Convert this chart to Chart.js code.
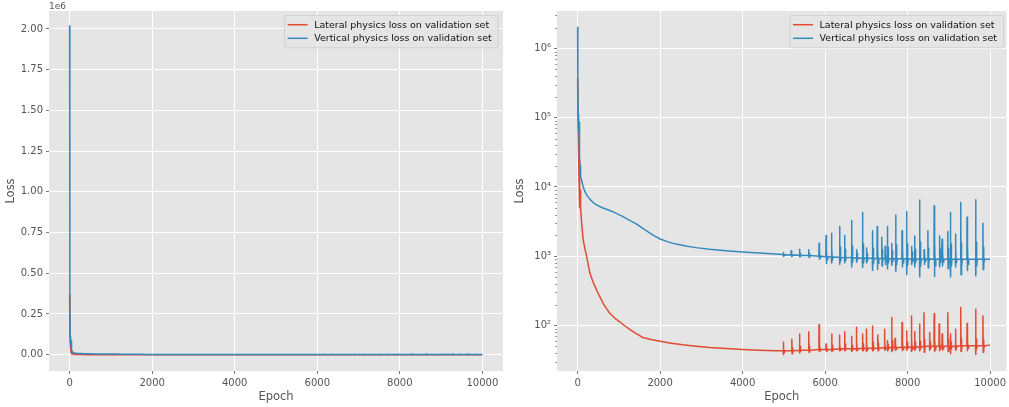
<!DOCTYPE html>
<html>
<head>
<meta charset="utf-8">
<script src="https://cdn.jsdelivr.net/npm/chart.js@4/dist/chart.umd.min.js"></script>
<style>
  html, body { margin: 0; padding: 0; background: #fff; overflow: hidden; }
  #wrap { position: relative; width: 1009px; height: 407px; }
  canvas { position: absolute; top: 0; }
  #linChart { left: 0; }
  #logChart { left: 509px; }
</style>
</head>
<body>
<div id="wrap">
  <canvas id="linChart" width="509" height="407"></canvas>
  <canvas id="logChart" width="500" height="407"></canvas>
</div>
<script>
const seriesNames = ['Lateral physics loss on validation set', 'Vertical physics loss on validation set'];

// ---- lateral loss ----
// decay part, [epoch, loss]
const lateralDecay = [
  [0, 370000], [3, 200000], [8, 120000], [15, 60000], [25, 25000], [35, 12000], [45, 9000],
  [50, 25000], [55, 5000], [62, 9000], [72, 4900], [100, 2900], [135, 1720], [175, 1300],
  [217, 1000], [297, 570], [370, 430], [458, 326], [540, 260], [618, 209], [700, 175],
  [779, 150], [900, 128], [1020, 113], [1140, 99], [1262, 88], [1420, 76], [1583, 67],
  [1800, 62], [2002, 59], [2270, 55.5], [2548, 52.5], [2870, 50], [3192, 48], [3600, 46.5],
  [4000, 45], [4400, 44], [4800, 43], [4975, 43]
];
// spikes, [epoch, base, peak, dip, rebound, dip2]
const lateralSpikes = [
  [4985, 43, 57, 38, 47, 41], [5193, 43, 63, 39, 48, 41], [5380, 44, 75, 40, 50, 42],
  [5604, 44, 81, 41, 51, 42], [5853, 45, 102, 42, 53, 43], [6022, 45, 54, 42, 48, 43],
  [6160, 45, 75, 42, 52, 43], [6345, 46, 73, 43, 53, 44], [6473, 46, 81, 43, 54, 44],
  [6642, 46, 69, 42, 52, 44], [6755, 46, 94, 43, 56, 44], [6907, 47, 75, 43, 55, 44],
  [6996, 47, 88, 42, 56, 44], [7148, 47, 98, 43, 57, 44], [7277, 47, 73, 43, 55, 45],
  [7437, 48, 88, 44, 57, 45], [7510, 48, 60, 43, 53, 45], [7614, 48, 130, 42, 60, 44],
  [7695, 48, 65, 44, 55, 45], [7865, 48, 110, 43, 58, 45], [7977, 49, 84, 44, 57, 46],
  [8089, 49, 137, 42, 62, 45], [8170, 49, 81, 44, 57, 46], [8291, 49, 105, 43, 59, 46],
  [8396, 50, 153, 41, 63, 45], [8532, 50, 79, 44, 58, 46], [8644, 50, 147, 42, 62, 45],
  [8765, 50, 105, 43, 60, 46], [8837, 50, 75, 44, 57, 46], [8975, 50, 153, 42, 63, 45],
  [9038, 50, 75, 39, 58, 46], [9158, 50, 88, 44, 58, 46], [9288, 51, 181, 42, 65, 46],
  [9441, 51, 107, 43, 60, 47], [9650, 51, 171, 38, 64, 46], [9826, 51, 137, 41, 62, 46]
];
const lateralLast = [9999, 52];

// ---- vertical loss ----
const verticalDecay = [
  [0, 2020000], [3, 900000], [8, 300000], [15, 110000], [25, 60000], [35, 85000], [40, 40000],
  [45, 65000], [52, 25000], [60, 17000], [68, 20000], [75, 14000], [96, 12600], [130, 10200],
  [176, 8600], [230, 7500], [297, 6670], [370, 6000], [458, 5500], [600, 5000], [779, 4560],
  [940, 4150], [1100, 3730], [1260, 3300], [1423, 2930], [1580, 2520], [1744, 2170],
  [1870, 1950], [2002, 1770], [2190, 1610], [2388, 1495], [2620, 1400], [2871, 1330],
  [3192, 1260], [3600, 1200], [4000, 1150], [4500, 1100], [4975, 1060]
];
const verticalSpikes = [
  [4985, 1050, 1130, 1000, 1080, 1020], [5177, 1040, 1200, 990, 1090, 1010],
  [5380, 1030, 1260, 980, 1100, 990], [5604, 1020, 1240, 960, 1090, 980],
  [5853, 1000, 1540, 900, 1150, 950], [6022, 980, 1990, 780, 1250, 880],
  [6152, 975, 2150, 800, 1300, 870], [6352, 965, 2680, 760, 1350, 850],
  [6473, 960, 1990, 800, 1250, 860], [6642, 955, 3270, 700, 1400, 820],
  [6762, 950, 1240, 820, 1100, 880], [6907, 945, 4260, 690, 1500, 800],
  [7003, 940, 1310, 800, 1100, 860], [7148, 935, 2340, 620, 1300, 780],
  [7262, 930, 2680, 640, 1350, 790], [7373, 930, 1880, 720, 1250, 820],
  [7455, 925, 1380, 760, 1150, 840], [7510, 925, 2680, 660, 1350, 800],
  [7614, 920, 1520, 740, 1200, 830], [7711, 920, 3950, 600, 1450, 760],
  [7865, 915, 2340, 700, 1300, 800], [7977, 915, 4410, 540, 1500, 740],
  [8097, 912, 1380, 760, 1150, 840], [8170, 910, 1960, 700, 1250, 810],
  [8291, 910, 6500, 500, 1600, 720], [8400, 910, 1240, 760, 1100, 840],
  [8492, 908, 2340, 680, 1300, 800], [8644, 905, 5330, 510, 1550, 730],
  [8773, 905, 1960, 700, 1250, 810], [8837, 905, 1760, 720, 1200, 820],
  [8975, 903, 2270, 660, 1300, 790], [9038, 903, 4260, 500, 1500, 730],
  [9158, 902, 2100, 700, 1250, 800], [9288, 900, 5960, 540, 1550, 730],
  [9441, 900, 3660, 620, 1400, 760], [9650, 900, 6520, 520, 1600, 720],
  [9826, 900, 3000, 640, 1350, 780]
];
const verticalLast = [9999, 900];

// ---- ticks ----
const epochTicks = [0, 2000, 4000, 6000, 8000, 10000];
const linLossTicks = [0, 250000, 500000, 750000, 1000000, 1250000, 1500000, 1750000, 2000000];
const logMajorTicks = [1e2, 1e3, 1e4, 1e5, 1e6];
const logMajorLabels = ['10²', '10³', '10⁴', '10⁵', '10⁶'];
const logMinorTicks = [
  30, 40, 50, 60, 70, 80, 90,
  200, 300, 400, 500, 600, 700, 800, 900,
  2000, 3000, 4000, 5000, 6000, 7000, 8000, 9000,
  20000, 30000, 40000, 50000, 60000, 70000, 80000, 90000,
  200000, 300000, 400000, 500000, 600000, 700000, 800000, 900000,
  2000000, 3000000
];

const RED = '#E24A33';
const BLUE = '#348ABD';
const TXT = '#555555';
const FONT = 'DejaVu Sans';

// epoch offsets of pre, peak, dip, rebound, dip2, post within one spike
const spikeSteps = [-4, 0, 7, 15, 24, 40];

function buildSeries(decay, spikes, last) {
  const pts = decay.map(([x, y]) => ({ x, y }));
  spikes.forEach(([e, base, peak, dip, reb, dip2]) => {
    [base, peak, dip, reb, dip2, base].forEach((y, i) => pts.push({ x: e + spikeSteps[i], y }));
  });
  pts.push({ x: last[0], y: last[1] });
  return pts;
}
const lateralData = buildSeries(lateralDecay, lateralSpikes, lateralLast);
const verticalData = buildSeries(verticalDecay, verticalSpikes, verticalLast);

// grey panel behind the plot
const panelBg = {
  id: 'panelBg',
  beforeDraw(chart) {
    const { ctx, chartArea: a } = chart;
    ctx.save();
    ctx.fillStyle = '#E5E5E5';
    ctx.fillRect(a.left, a.top, a.right - a.left, a.bottom - a.top);
    ctx.restore();
  }
};

// legend box in the upper right
const boxLegend = {
  id: 'boxLegend',
  afterDatasetsDraw(chart, args, opts) {
    const { ctx, chartArea: a } = chart;
    ctx.save();
    ctx.font = '9.5px "' + FONT + '"';
    const tw = Math.max(...seriesNames.map(s => ctx.measureText(s).width));
    const w = 30 + tw + 6, h = 32.3;
    const x0 = a.right - opts.gap - w, y0 = a.top + 4;
    ctx.beginPath();
    ctx.roundRect(x0 + 0.5, y0 + 0.5, w, h, 2);
    ctx.fillStyle = 'rgba(229,229,229,0.8)';
    ctx.fill();
    ctx.strokeStyle = 'rgba(204,204,204,0.8)';
    ctx.lineWidth = 1;
    ctx.stroke();
    ctx.textBaseline = 'middle';
    ctx.fillStyle = '#111';
    [RED, BLUE].forEach((c, i) => {
      const cy = y0 + 9.7 + i * 13.6;
      ctx.strokeStyle = c;
      ctx.lineWidth = 1.5;
      ctx.beginPath();
      ctx.moveTo(x0 + 3.5, cy);
      ctx.lineTo(x0 + 23.5, cy);
      ctx.stroke();
      ctx.fillText(seriesNames[i], x0 + 30, cy + 0.5);
    });
    ctx.restore();
  }
};

// "1e6" offset label and short minor ticks
const extras = {
  id: 'extras',
  afterDraw(chart, args, opts) {
    const { ctx, chartArea: a } = chart;
    ctx.save();
    if (opts.offsetText) {
      ctx.font = '9px "' + FONT + '"';
      ctx.fillStyle = TXT;
      ctx.textBaseline = 'alphabetic';
      ctx.fillText(opts.offsetText, a.left, a.top - 2);
    }
    if (opts.minor) {
      const y = chart.scales.y;
      ctx.strokeStyle = TXT;
      ctx.lineWidth = 0.7;
      logMinorTicks.forEach(v => {
        const py = Math.round(y.getPixelForValue(v)) + 0.5;
        if (py < a.top || py > a.bottom) return;
        ctx.beginPath();
        ctx.moveTo(a.left - 1.8, py);
        ctx.lineTo(a.left, py);
        ctx.stroke();
      });
    }
    ctx.restore();
  }
};

const gridOpts = { color: '#FFFFFF', lineWidth: 1, tickLength: 3, tickColor: TXT, tickWidth: 0.8 };
const tickFont = { family: FONT, size: 10 };
const titleFont = { family: FONT, size: 11.5 };

function makeChart(id, opt) {
  const isLog = opt.log;
  return new Chart(document.getElementById(id), {
    type: 'line',
    data: {
      datasets: [
        { label: seriesNames[0], data: lateralData, borderColor: RED, order: 1 },
        { label: seriesNames[1], data: verticalData, borderColor: BLUE, order: 0 }
      ]
    },
    options: {
      responsive: false,
      animation: false,
      devicePixelRatio: 1,
      datasets: { line: { borderWidth: 1.5, pointRadius: 0, tension: 0, borderJoinStyle: 'round', fill: false } },
      layout: { autoPadding: false, padding: { top: 11, right: opt.padRight, left: 0, bottom: 0 } },
      plugins: {
        legend: { display: false },
        tooltip: { enabled: false },
        boxLegend: { gap: opt.legendGap },
        extras: { offsetText: isLog ? null : '1e6', minor: isLog }
      },
      scales: {
        x: {
          type: 'linear',
          min: -500,
          max: opt.xMax,
          afterBuildTicks: s => { s.ticks = epochTicks.map(v => ({ value: v })); },
          afterFit: s => { s.height = 36; },
          border: { display: false },
          grid: gridOpts,
          ticks: { autoSkip: false, maxRotation: 0, padding: 3, color: TXT, font: tickFont, callback: v => String(v) },
          title: { display: true, text: 'Epoch', color: TXT, font: titleFont, padding: { top: 2, bottom: 3 } }
        },
        y: isLog ? {
          type: 'logarithmic',
          min: 22,
          max: 3.47e6,
          afterBuildTicks: s => { s.ticks = logMajorTicks.map(v => ({ value: v })); },
          afterFit: s => { s.width = 48; },
          border: { display: false },
          grid: gridOpts,
          ticks: { autoSkip: false, padding: 3, color: TXT, font: tickFont, callback: v => logMajorLabels[logMajorTicks.indexOf(v)] },
          title: { display: true, text: 'Loss', color: TXT, font: titleFont }
        } : {
          type: 'linear',
          min: -100000,
          max: 2110000,
          afterBuildTicks: s => { s.ticks = linLossTicks.map(v => ({ value: v })); },
          afterFit: s => { s.width = 49; },
          border: { display: false },
          grid: gridOpts,
          ticks: { autoSkip: false, padding: 3, color: TXT, font: tickFont, callback: v => (v / 1e6).toFixed(2) },
          title: { display: true, text: 'Loss', color: TXT, font: titleFont }
        }
      }
    },
    plugins: [panelBg, boxLegend, extras]
  });
}

makeChart('linChart', { log: false, xMax: 10500, padRight: 6, legendGap: 5.3 });
makeChart('logChart', { log: true, xMax: 10400, padRight: 0, legendGap: 3.5 });
</script>
</body>
</html>
